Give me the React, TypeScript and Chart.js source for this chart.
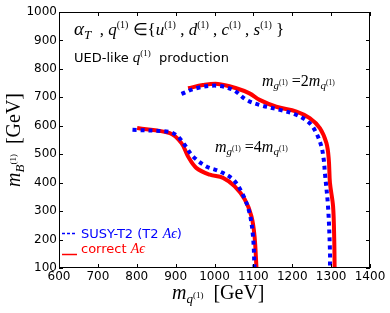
import React, { useEffect, useRef } from "react";
import { Chart, registerables } from "chart.js";

Chart.register(...registerables);

// ---- data ----
const X_MIN = 600;
const X_MAX = 1400;
const Y_MIN = 100;
const Y_MAX = 1000;

// outer contour: m_g = 2 m_q
const blueOuterX = [915, 953, 1005, 1048, 1082, 1116, 1168, 1211, 1245, 1262, 1275, 1281, 1284, 1292, 1297, 1297];
const blueOuterY = [712, 732, 741, 726, 691, 673, 656, 638, 609, 574, 527, 481, 434, 317, 160, 100];
const redOuterX = [932, 970, 1009, 1056, 1090, 1116, 1159, 1211, 1245, 1271, 1288, 1294, 1297, 1305, 1308, 1309];
const redOuterY = [732, 743, 747, 732, 714, 691, 667, 650, 627, 592, 539, 481, 399, 317, 200, 100];

// inner contour: m_g = 4 m_q
const blueInnerX = [789, 885, 906, 923, 945, 979, 1013, 1048, 1073, 1090, 1099, 1103];
const blueInnerY = [586, 578, 562, 533, 492, 457, 440, 411, 358, 294, 212, 100];
const redInnerX = [801, 885, 915, 932, 953, 988, 1022, 1052, 1078, 1095, 1103, 1108];
const redInnerY = [592, 574, 539, 492, 452, 428, 417, 387, 341, 282, 212, 100];

const BLUE = "#0000ff";
const RED = "#ff0000";
const SERIF = '"Liberation Serif", serif';
const SANS = '"DejaVu Sans", sans-serif';

type Run = { t: string; size: number; italic?: boolean; sans?: boolean; dy?: number; color?: string };

function drawRuns(ctx: CanvasRenderingContext2D, runs: Run[], x: number, y: number, color: string) {
  let cx = x;
  ctx.textBaseline = "alphabetic";
  ctx.textAlign = "left";
  for (const r of runs) {
    ctx.font = `${r.italic ? "italic " : ""}${r.size}px ${r.sans ? SANS : SERIF}`;
    ctx.fillStyle = r.color ?? color;
    ctx.fillText(r.t, cx, y + (r.dy ?? 0));
    cx += ctx.measureText(r.t).width;
  }
  return cx;
}

function zip(xs: number[], ys: number[]) {
  return xs.map((x, i) => ({ x, y: ys[i] }));
}

const decorPlugin = {
  id: "decor",
  afterDraw(chart: any) {
    const ctx: CanvasRenderingContext2D = chart.ctx;
    const a = chart.chartArea;
    const xs = chart.scales.x;
    const ys = chart.scales.y;
    ctx.save();
    // frame
    ctx.strokeStyle = "#000";
    ctx.lineWidth = 1;
    ctx.setLineDash([]);
    ctx.strokeRect(a.left + 0.5, a.top + 0.5, a.right - a.left - 1, a.bottom - a.top - 1);
    // inward ticks on all sides
    const TL = 4;
    ctx.beginPath();
    for (const t of xs.ticks) {
      const px = Math.round(xs.getPixelForValue(t.value)) + 0.5;
      ctx.moveTo(px, a.bottom);
      ctx.lineTo(px, a.bottom - TL);
      ctx.moveTo(px, a.top);
      ctx.lineTo(px, a.top + TL);
    }
    for (const t of ys.ticks) {
      const py = Math.round(ys.getPixelForValue(t.value)) + 0.5;
      ctx.moveTo(a.left, py);
      ctx.lineTo(a.left + TL, py);
      ctx.moveTo(a.right, py);
      ctx.lineTo(a.right - TL, py);
    }
    ctx.stroke();

    // title line
    const S = 17;
    const sup = 10;
    drawRuns(
      ctx,
      [
        { t: "α", size: 19, italic: true },
        { t: "T", size: 13, italic: true, dy: 4 },
        { t: "  , ", size: S },
        { t: "q", size: S, italic: true },
        { t: "(1)", size: sup, dy: -7 },
        { t: " ∈{", size: S },
        { t: "u", size: S, italic: true },
        { t: "(1)", size: sup, dy: -7 },
        { t: " , ", size: S },
        { t: "d", size: S, italic: true },
        { t: "(1)", size: sup, dy: -7 },
        { t: " , ", size: S },
        { t: "c", size: S, italic: true },
        { t: "(1)", size: sup, dy: -7 },
        { t: " , ", size: S },
        { t: "s", size: S, italic: true },
        { t: "(1)", size: sup, dy: -7 },
        { t: " }", size: S },
      ],
      74,
      35,
      "#000"
    );
    drawRuns(
      ctx,
      [
        { t: "UED-like ", size: 13, sans: true },
        { t: "q", size: 15, italic: true },
        { t: "(1)", size: 9, dy: -6 },
        { t: "  production", size: 13, sans: true },
      ],
      74,
      62,
      "#000"
    );

    const mg = (k: string): Run[] => [
      { t: "m", size: 16, italic: true },
      { t: "g", size: 11, italic: true, dy: 3 },
      { t: "(1)", size: 7.5, dy: -1 },
      { t: " =" + k, size: 16 },
      { t: "m", size: 16, italic: true },
      { t: "q", size: 11, italic: true, dy: 3 },
      { t: "(1)", size: 7.5, dy: -1 },
    ];
    drawRuns(ctx, mg("2"), 262, 86, "#000");
    drawRuns(ctx, mg("4"), 215, 152, "#000");

    // legend
    ctx.lineWidth = 1.5;
    ctx.strokeStyle = BLUE;
    ctx.setLineDash([3, 2]);
    ctx.beginPath();
    ctx.moveTo(62, 233.5);
    ctx.lineTo(77, 233.5);
    ctx.stroke();
    ctx.strokeStyle = RED;
    ctx.setLineDash([]);
    ctx.beginPath();
    ctx.moveTo(62, 254.5);
    ctx.lineTo(77, 254.5);
    ctx.stroke();
    drawRuns(
      ctx,
      [
        { t: "SUSY-T2 (T2 ", size: 13, sans: true },
        { t: "Aϵ", size: 14, italic: true },
        { t: ")", size: 13, sans: true },
      ],
      81,
      237.5,
      BLUE
    );
    drawRuns(
      ctx,
      [
        { t: "correct ", size: 13, sans: true },
        { t: "Aϵ", size: 14, italic: true },
      ],
      81,
      252.5,
      RED
    );

    // x-axis title
    drawRuns(
      ctx,
      [
        { t: "m", size: 20, italic: true },
        { t: "q", size: 13, italic: true, dy: 4 },
        { t: "(1)", size: 9, dy: -1 },
        { t: "  [GeV]", size: 20 },
      ],
      172,
      299,
      "#000"
    );
    // y-axis title (rotated)
    ctx.translate(20, (a.top + a.bottom) / 2);
    ctx.rotate(-Math.PI / 2);
    const runsY: Run[] = [
      { t: "m", size: 20, italic: true },
      { t: "B", size: 13, italic: true, dy: 4 },
      { t: "(1)", size: 9, dy: -4 },
      { t: "  [GeV]", size: 20 },
    ];
    let w = 0;
    for (const r of runsY) {
      ctx.font = `${r.italic ? "italic " : ""}${r.size}px ${SERIF}`;
      w += ctx.measureText(r.t).width;
    }
    drawRuns(ctx, runsY, -w / 2, 0, "#000");
    ctx.restore();
  },
};

export default function App() {
  const ref = useRef<HTMLCanvasElement | null>(null);
  useEffect(() => {
    if (!ref.current) return;
    const tickFont = { family: SANS, size: 12 };
    const fmt = (v: any) => String(v);
    const blueStyle = {
      borderColor: BLUE,
      borderWidth: 4,
      borderDash: [4, 4],
      pointRadius: 0,
      tension: 0.35,
      fill: false,
    };
    const redStyle = {
      borderColor: RED,
      borderWidth: 4,
      pointRadius: 0,
      tension: 0.35,
      fill: false,
    };
    const chart = new Chart(ref.current, {
      type: "line",
      data: {
        datasets: [
          { label: "SUSY-T2 (T2 Aε) 2m", data: zip(blueOuterX, blueOuterY), ...blueStyle },
          { label: "SUSY-T2 (T2 Aε) 4m", data: zip(blueInnerX, blueInnerY), ...blueStyle },
          { label: "correct Aε 2m", data: zip(redOuterX, redOuterY), ...redStyle },
          { label: "correct Aε 4m", data: zip(redInnerX, redInnerY), ...redStyle },
        ],
      },
      options: {
        animation: false,
        responsive: true,
        maintainAspectRatio: false,
        layout: { padding: { left: 0, top: 12, right: 20, bottom: 0 } },
        plugins: { legend: { display: false }, tooltip: { enabled: false } },
        scales: {
          x: {
            type: "linear",
            min: X_MIN,
            max: X_MAX,
            ticks: { stepSize: 100, font: tickFont, color: "#000", padding: 2, maxRotation: 0, callback: fmt },
            grid: { display: false, drawTicks: false },
            border: { display: false },
            afterFit: (s: any) => {
              s.height = 45;
            },
          },
          y: {
            type: "linear",
            min: Y_MIN,
            max: Y_MAX,
            ticks: { stepSize: 100, font: tickFont, color: "#000", padding: 2, callback: fmt },
            grid: { display: false, drawTicks: false },
            border: { display: false },
            afterFit: (s: any) => {
              s.width = 59;
            },
          },
        },
      },
      plugins: [decorPlugin],
    });
    return () => chart.destroy();
  }, []);
  return (
    <div style={{ position: "absolute", left: 0, top: 0, width: 390, height: 313, background: "#fff" }}>
      <canvas ref={ref} />
    </div>
  );
}
